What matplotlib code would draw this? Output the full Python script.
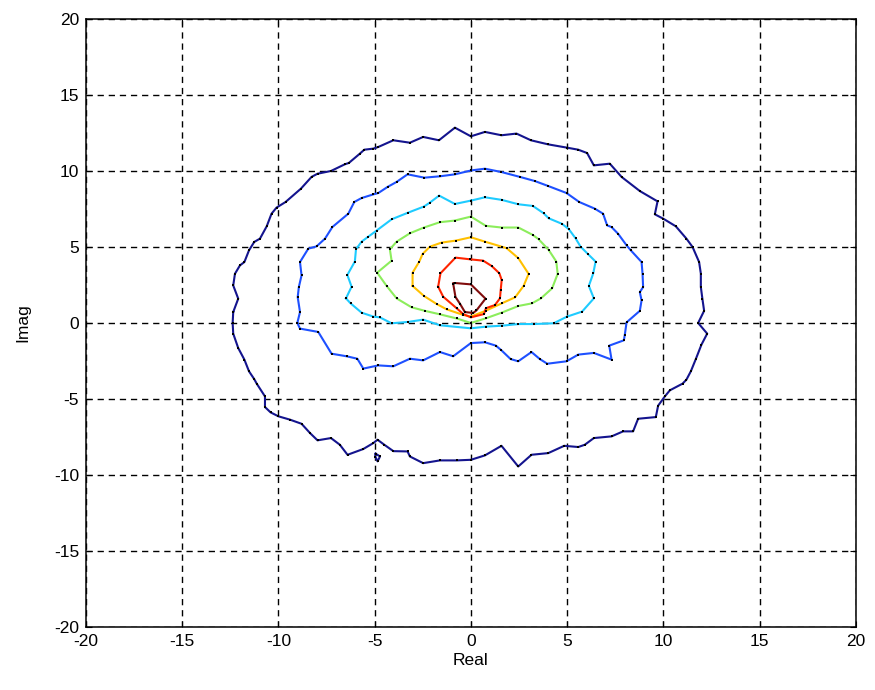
import numpy as np
import matplotlib.pyplot as plt

plt.rcParams['font.family'] = ['Liberation Sans', 'DejaVu Sans']
plt.rcParams['axes.unicode_minus'] = False

# contour levels, outermost first (closed polygons)
lvl1_x = [-12.35, -12.09, -12.35, -12.26, -12.0, -11.77, -11.53, -11.26, -10.96, -10.61, -10.36, -10.10,
          -9.63, -8.83, -8.28, -7.97, -7.27, -6.55, -6.34, -5.77, -5.54, -5.07, -4.81, -4.03, -3.17, -2.48,
          -1.66, -0.83, 0.0, 0.73, 1.59, 2.37, 3.12, 4.02, 4.97, 5.58, 6.04, 6.39, 7.22, 7.83, 8.78, 9.70,
          9.56, 10.0, 10.65, 11.2, 11.52, 11.86, 11.95, 11.95, 12.03, 12.12, 11.81, 12.28, 11.98, 11.69,
          11.43, 11.2, 11.0, 10.34, 10.08, 9.73, 9.61, 8.69, 8.43, 7.91, 7.31, 6.39, 5.92, 5.58, 4.85, 4.02,
          3.15, 2.46, 1.59, 0.73, 0.0, -0.74, -1.61, -2.48, -3.17, -3.29, -4.03, -4.50, -4.85, -5.07, -5.59,
          -6.41, -6.81, -7.27, -7.97, -8.36, -8.80, -9.40, -10.0, -10.41, -10.70, -10.70, -11.13, -11.26,
          -11.53, -11.77, -12.09, -12.35, -12.38]
lvl1_y = [0.72, 1.60, 2.47, 3.24, 3.79, 4.01, 4.78, 5.33, 5.55, 6.36, 7.19, 7.59,
          7.96, 8.84, 9.61, 9.82, 10.0, 10.44, 10.53, 11.14, 11.40, 11.47, 11.58, 12.02, 11.86, 12.24,
          12.02, 12.85, 12.28, 12.57, 12.35, 12.46, 12.02, 11.75, 11.54, 11.40, 11.18, 10.37, 10.48, 9.61,
          8.68, 8.0, 7.15, 6.86, 6.36, 5.55, 5.0, 4.01, 3.25, 2.37, 1.6, 0.80, 0.0, -0.70, -1.43, -2.37,
          -3.18, -3.73, -3.99, -4.43, -4.83, -5.44, -6.19, -6.30, -7.13, -7.13, -7.46, -7.57, -8.01, -8.16,
          -8.08, -8.56, -8.67, -9.44, -8.08, -8.71, -9.0, -9.04, -9.04, -9.22, -8.78, -8.45, -8.43, -8.01,
          -7.68, -7.90, -8.29, -8.67, -8.01, -7.57, -7.72, -7.24, -6.63, -6.36, -6.14, -5.88, -5.53, -4.83,
          -3.99, -3.69, -3.18, -2.41, -1.65, -0.70, 0.0]
# small island on the outer level
isle_x = [-4.95, -4.72, -4.85, -4.97]
isle_y = [-8.6, -8.78, -9.1, -8.8]

lvl2_x = [-9.02, -8.88, -9.0, -8.94, -8.80, -8.88, -8.45, -8.02, -7.58, -7.20, -6.37, -6.06, -5.68, -5.07,
          -4.81, -4.33, -3.86, -3.29, -2.42, -1.61, -0.83, 0.03, 0.73, 1.59, 2.55, 3.32, 4.02, 4.97, 5.63,
          6.44, 6.87, 7.08, 7.31, 7.65, 8.09, 8.31, 8.87, 8.92, 8.95, 8.78, 8.87, 8.78, 8.09, 8.0, 7.95,
          7.19, 7.31, 6.39, 5.58, 4.97, 3.97, 3.58, 3.15, 2.46, 2.06, 1.59, 1.30, 0.73, 0.0, -0.92, -1.61,
          -2.48, -3.17, -4.03, -4.81, -5.59, -5.90, -6.46, -7.24, -7.93, -8.88]
lvl2_y = [0.0, 0.72, 1.70, 2.36, 3.13, 4.01, 4.89, 5.04, 5.55, 6.31, 7.19, 7.96, 8.22, 8.46,
          8.55, 8.95, 9.28, 9.78, 9.56, 9.65, 9.78, 10.04, 10.15, 9.93, 9.61, 9.34, 9.01, 8.55, 7.96,
          7.52, 7.19, 6.42, 6.31, 5.87, 5.11, 4.78, 4.01, 3.24, 2.36, 2.03, 1.49, 0.80, 0.04, -0.77, -1.14,
          -1.49, -2.41, -1.97, -2.08, -2.52, -2.68, -2.37, -1.91, -2.52, -2.37, -1.80, -1.49, -1.27, -1.32,
          -2.19, -1.91, -2.46, -2.35, -2.85, -2.79, -3.0, -2.35, -2.19, -2.02, -0.59, -0.37]

lvl3_x = [-6.49, -6.20, -6.42, -6.03, -5.97, -5.68, -5.33, -4.90, -4.12, -3.26, -2.44, -2.13, -1.65, -0.83,
          0.0, 0.73, 1.60, 2.47, 3.22, 3.78, 4.04, 4.74, 5.09, 5.44, 5.70, 6.08, 6.48, 6.36, 6.13, 6.39,
          5.78, 5.0, 4.30, 3.26, 2.47, 1.60, 0.78, 0.0, -1.61, -2.48, -3.26, -4.12, -4.73, -5.07, -5.68, -6.25]
lvl3_y = [1.62, 2.39, 3.16, 4.04, 4.85, 5.35, 5.68, 6.08, 6.82, 7.26, 7.66, 7.92, 8.38, 7.83,
          8.05, 8.27, 8.10, 7.81, 7.70, 7.22, 6.89, 6.52, 6.17, 5.57, 5.02, 4.54, 4.04, 3.27, 2.44, 1.62,
          0.75, 0.42, -0.02, -0.07, -0.07, -0.18, -0.24, -0.35, -0.15, 0.22, 0.07, -0.02, 0.37, 0.42, 0.68, 1.29]

lvl4_x = [-4.87, -4.12, -4.21, -3.86, -3.17, -2.44, -1.61, -0.83, 0.0, 0.78, 1.60, 2.47, 3.22, 3.52, 4.04,
          4.44, 4.51, 4.22, 3.64, 3.17, 2.47, 1.60, 0.78, 0.0, -0.74, -1.61, -2.39, -3.08, -3.86, -4.38]
lvl4_y = [3.31, 4.10, 4.85, 5.35, 5.90, 6.28, 6.63, 6.74, 7.0, 6.39, 6.28, 6.28, 5.79, 5.51, 4.81,
          4.04, 3.23, 2.28, 1.62, 1.29, 1.12, 0.68, 0.31, 0.0, 0.30, 0.57, 0.80, 1.03, 1.62, 2.44]

lvl5_x = [-3.03, -3.03, -2.68, -2.51, -2.13, -1.52, -0.78, 0.0, 0.73, 1.60, 1.86, 2.47, 3.0, 2.74, 2.30,
          1.60, 0.78, 0.0, -0.40, -1.26, -1.78, -2.44]
lvl5_y = [2.44, 3.31, 4.04, 4.54, 5.02, 5.29, 5.42, 5.64, 5.35, 5.02, 4.92, 4.26, 3.23, 2.44, 1.69,
          1.29, 0.81, 0.42, 0.53, 0.90, 1.25, 1.78]

lvl6_x = [-1.70, -1.58, -0.80, -0.05, 0.64, 1.08, 1.48, 1.60, 1.55, 1.51, 1.25, 0.78, 0.68, 0.0, -0.40,
          -0.74, -1.44]
lvl6_y = [2.39, 3.27, 4.30, 4.19, 4.10, 3.75, 3.27, 2.83, 2.17, 1.62, 1.18, 0.97, 0.59, 0.37, 0.59,
          0.97, 1.73]

lvl7_x = [-0.92, -0.83, 0.0, 0.76, 0.29, 0.12, -0.31, -0.57, -0.80]
lvl7_y = [2.59, 2.63, 2.54, 1.60, 0.83, 0.66, 0.72, 1.27, 1.71]

levels = [(lvl1_x, lvl1_y), (isle_x, isle_y), (lvl2_x, lvl2_y), (lvl3_x, lvl3_y),
          (lvl4_x, lvl4_y), (lvl5_x, lvl5_y), (lvl6_x, lvl6_y), (lvl7_x, lvl7_y)]
colors = ['#14148e', '#14148e', '#1e50ff', '#1ecbff', '#8ced5c', '#ffc000', '#ff2400', '#800c0c']

fig = plt.figure(figsize=(8.75, 6.9), dpi=100)
ax = fig.add_axes([0.0983, 0.0913, 0.8797, 0.8812])

for (xs, ys), c in zip(levels, colors):
    xs = np.append(xs, xs[0])
    ys = np.append(ys, ys[0])
    ax.plot(xs, ys, color=c, lw=1.5, zorder=3)
    ax.plot(xs[:-1], ys[:-1], 's', color='black', ms=1.6, mew=0, zorder=4)

ax.set_xlim(-20, 20)
ax.set_ylim(-20, 20)
ax.set_xticks(np.arange(-20, 21, 5))
ax.set_yticks(np.arange(-20, 21, 5))
ax.grid(True, color='black', linestyle=(0, (4.5, 3.5)), lw=1.0)
ax.tick_params(direction='in', length=4, width=0.8, labelsize=12.5, top=True, right=True, pad=5)
for s in ax.spines.values():
    s.set_linewidth(1.1)

ax.set_xlabel('Real', fontsize=12.5, labelpad=3)
ax.set_ylabel('Imag', fontsize=12.5, labelpad=17)

fig.savefig('out.png', dpi=100)
